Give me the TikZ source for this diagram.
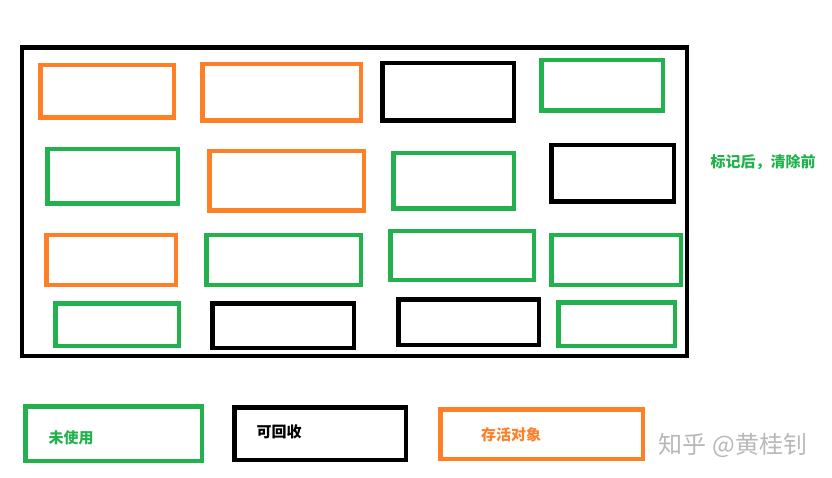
\documentclass[tikz,border=0pt]{standalone}
\usepackage{fontspec}
\newfontfamily\cjk{Noto Sans CJK SC}
\definecolor{paintgreen}{HTML}{22B14C}
\definecolor{paintorange}{HTML}{FF7F27}
\definecolor{markgray}{HTML}{B8B8B8}
\begin{document}
\begin{tikzpicture}[x=1pt, y=-1pt, font=\cjk,
		obj/.style={draw, line width=4.5pt, inner sep=0pt},
		unused/.style={obj, draw=paintgreen},
		garbage/.style={obj, draw=black},
		alive/.style={obj, draw=paintorange},
		legtext/.style={font=\cjk\bfseries\fontsize{15}{18}\selectfont}]
	\useasboundingbox (0,0) rectangle (832,478);
	\def\obj#1#2#3#4#5#6{
		\node[#2, minimum width=#5pt, minimum height=#6pt] (#1) at (#3,#4) {};
	}
	
	% heap
	\node[obj, minimum width=665pt, minimum height=308.5pt] (heap) at (354.5,201.75) {};
	
	\obj{o11}{alive}{107}{91.5}{133.5}{52.5}
	\obj{o12}{alive}{281.5}{92.5}{158.5}{56.5}
	\obj{o13}{garbage}{448}{92}{131.5}{57.5}
	\obj{o14}{unused}{602}{85.5}{121.5}{50.5}
	
	\obj{o21}{unused}{112.5}{176.5}{130.5}{54.5}
	\obj{o22}{alive}{286.5}{181}{154.5}{59.5}
	\obj{o23}{unused}{453.5}{181}{120.5}{55.5}
	\obj{o24}{garbage}{612.5}{173.5}{122.5}{56.5}
	
	\obj{o31}{alive}{111}{260}{129.5}{49.5}
	\obj{o32}{unused}{283.5}{260}{154.5}{49.5}
	\obj{o33}{unused}{462}{255.5}{143.5}{48.5}
	\obj{o34}{unused}{616}{260}{129.5}{49.5}
	
	\obj{o41}{unused}{117}{324.5}{123.5}{42.5}
	\obj{o42}{garbage}{283}{325.5}{141.5}{44.5}
	\obj{o43}{garbage}{468.5}{322}{140.5}{45.5}
	\obj{o44}{unused}{616.5}{324}{116.5}{43.5}
	
	\node[legtext, text=paintgreen] (title) at (763,162) {标记后，清除前};
	
	% legend
	\obj{kunused}{unused}{113.5}{433.5}{176.5}{54.5}
	\obj{kgarbage}{garbage}{320}{433.5}{171.5}{52.5}
	\obj{kalive}{alive}{541.5}{434}{202.5}{49.5}
	\node[legtext, text=paintgreen] (tunused) at (71,438) {未使用};
	\node[legtext] (tgarbage) at (279,432) {可回收};
	\node[legtext, text=paintorange] (talive) at (511,435) {存活对象};
	
	\node[text=markgray, font=\cjk\fontsize{24}{28}\selectfont] (mark) at (733,445) {知乎 @黄桂钊};
\end{tikzpicture}
\end{document}
